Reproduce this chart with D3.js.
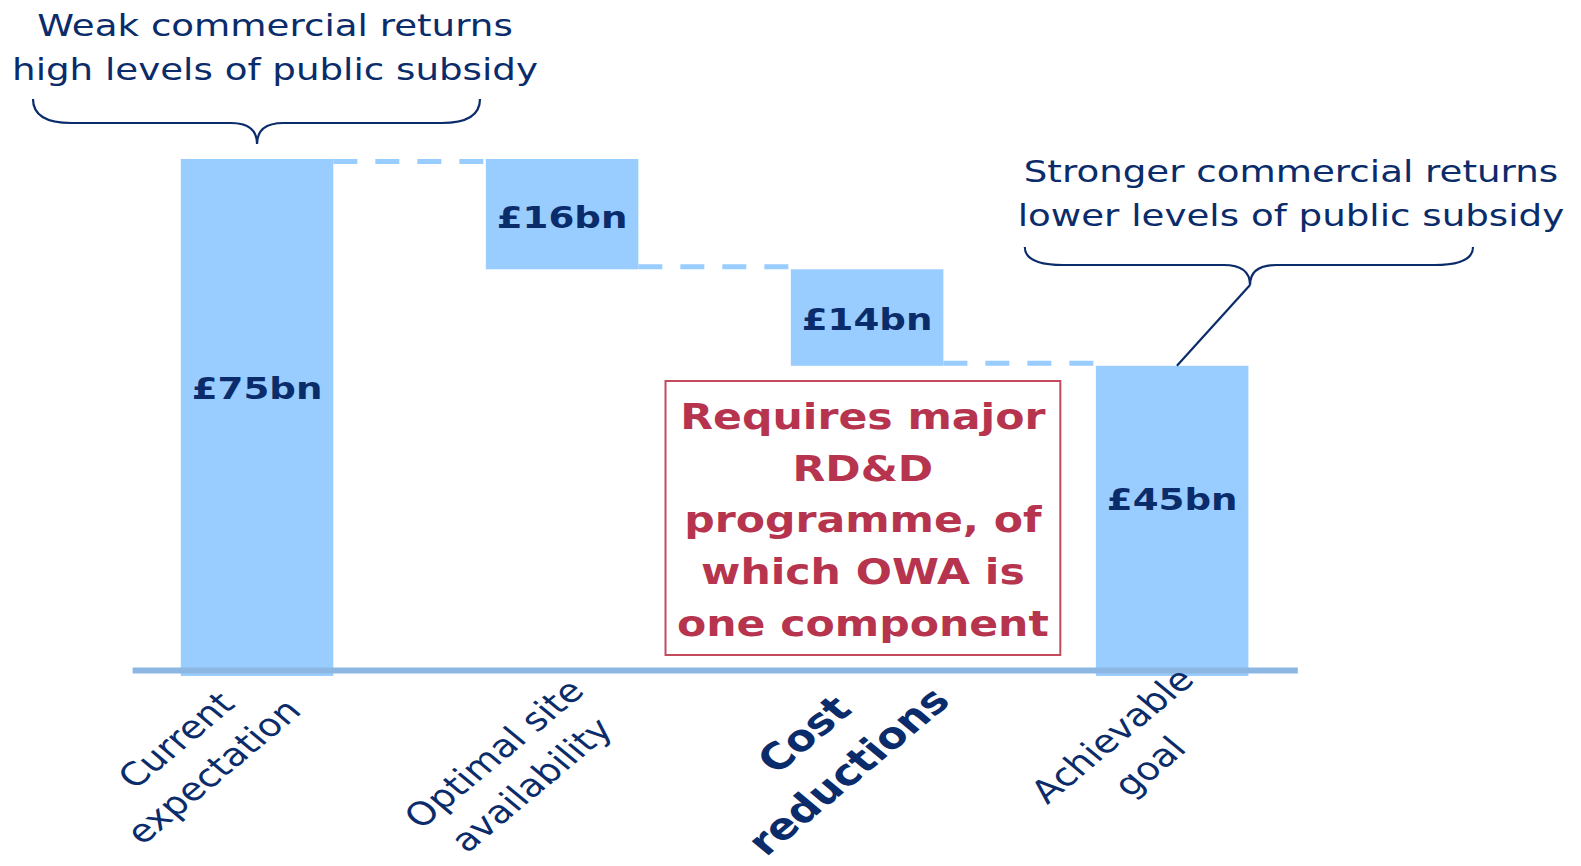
<!DOCTYPE html>
<html>
<head>
<meta charset="utf-8">
<script src="https://cdn.jsdelivr.net/npm/d3@7"></script>
<style>
  body { margin: 0; background: #fff; }
  text { font-family: "DejaVu Sans", Verdana, sans-serif; }
</style>
</head>
<body>
<script>
var categories = ["Current expectation", "Optimal site availability", "Cost reductions", "Achievable goal"];
var categoryLines = [["Current", "expectation"], ["Optimal site", "availability"], ["Cost", "reductions"], ["Achievable", "goal"]];
var changes = [75, -16, -14, 45];
var barKinds = ["total", "step", "step", "total"];
var valueLabels = ["£75bn", "£16bn", "£14bn", "£45bn"];
var highlight = "Cost reductions";

var leftNote = ["Weak commercial returns", "high levels of public subsidy"];
var rightNote = ["Stronger commercial returns", "lower levels of public subsidy"];
var boxNote = ["Requires major", "RD&D", "programme, of", "which OWA is", "one component"];

var width = 1581,
    height = 866,
    stretch = 1.2,          // the picture is wider than it is tall, text included
    vw = width / stretch;

var navy = "#0b2c6a", barColor = "#99ccff", axisColor = "#8cb7e3", red = "#b6344e";

// small hand nudges for the rotated labels, [along text, across text]
var labelNudge = [[-9, -9], [-8, 8], [0, 0], [0, 0]];

var svg = d3.select("body").append("svg")
    .attr("width", width)
    .attr("height", height)
    .attr("viewBox", "0 0 " + vw + " " + height)
    .attr("preserveAspectRatio", "none");

// running totals for the waterfall
var level = 0;
var bars = changes.map(function(v, i) {
  var b = {cat: categories[i], kind: barKinds[i], label: valueLabels[i]};
  if (b.kind == "total") { b.lo = 0; b.hi = v; level = v; }
  else { b.lo = level + v; b.hi = level; level += v; }
  b.end = b.kind == "total" ? b.hi : b.lo;
  return b;
});

var x = d3.scaleBand().domain(categories).range([110, 1081]).paddingInner(0.5).paddingOuter(0.16),
    y = d3.scaleLinear().domain([0, 75]).range([676, 159]);
var bw = x.bandwidth();

// dashed connectors between bars (first one hangs under the top edge)
svg.selectAll(".link")
  .data(bars.slice(0, -1))
  .enter().append("line")
  .attr("x1", function(d) { return x(d.cat) + bw; })
  .attr("x2", function(d, i) { return x(bars[i + 1].cat); })
  .attr("y1", function(d, i) { return y(d.end) + (i == 0 ? 2.5 : -2.5); })
  .attr("y2", function(d, i) { return y(d.end) + (i == 0 ? 2.5 : -2.5); })
  .attr("stroke", barColor)
  .attr("stroke-width", 5)
  .attr("stroke-dasharray", "20,15");

svg.selectAll(".bar")
  .data(bars)
  .enter().append("rect")
  .attr("x", function(d) { return x(d.cat); })
  .attr("y", function(d) { return y(d.hi); })
  .attr("width", bw)
  .attr("height", function(d) { return y(d.lo) - y(d.hi); })
  .attr("fill", barColor);

// axis line, labels are drawn by hand below
var axis = svg.append("g")
  .attr("transform", "translate(0,670)")
  .call(d3.axisBottom(x).tickSize(0).tickSizeOuter(0).tickFormat(""));
axis.select(".domain").attr("stroke", axisColor).attr("stroke-width", 6);

svg.selectAll(".value")
  .data(bars)
  .enter().append("text")
  .attr("x", function(d) { return x(d.cat) + bw / 2; })
  .attr("y", function(d) {
    var f = d.kind == "total" ? 0.465 : 0.625;
    return y(d.hi) + f * (y(d.lo) - y(d.hi));
  })
  .attr("text-anchor", "middle")
  .attr("font-size", 31)
  .attr("font-weight", "bold")
  .attr("fill", navy)
  .text(function(d) { return d.label; });

// rotated category labels
var cats = svg.selectAll(".cat")
  .data(categories)
  .enter().append("g")
  .attr("transform", function(d) { return "translate(" + (x(d) + bw / 2) + ",670) rotate(-45)"; });

cats.each(function(d, i) {
  var g = d3.select(this), bold = d == highlight;
  var fs = bold ? 36.5 : 32, lh = bold ? 52 : 44, base = bold ? 21 : 22;
  var t = g.selectAll("text")
    .data(categoryLines[i])
    .enter().append("text")
    .attr("y", function(s, j) { return base + labelNudge[i][1] + j * lh; })
    .attr("text-anchor", "middle")
    .attr("font-size", fs)
    .attr("font-weight", bold ? "bold" : "normal")
    .attr("fill", navy)
    .text(function(s) { return s; });
  var maxW = d3.max(t.nodes(), function(n) { return n.getComputedTextLength(); });
  t.attr("x", -maxW / 2 + (bold ? 27 : 6) + labelNudge[i][0]);
});

// braces
function brace(x0, x1, xt, yTop, yMid, yTip) {
  return "M" + x0 + "," + yTop + "Q" + x0 + "," + yMid + " " + (x0 + 32) + "," + yMid +
    "L" + (xt - 22) + "," + yMid + "Q" + xt + "," + yMid + " " + xt + "," + yTip +
    "Q" + xt + "," + yMid + " " + (xt + 22) + "," + yMid +
    "L" + (x1 - 32) + "," + yMid + "Q" + x1 + "," + yMid + " " + x1 + "," + yTop;
}

var first = x(categories[0]) + bw / 2,
    last = x(categories[3]) + bw / 2;

svg.append("path")
  .attr("d", brace(27.5, 400, first, 99, 123, 144))
  .attr("fill", "none").attr("stroke", navy).attr("stroke-width", 2.2)
  .attr("vector-effect", "non-scaling-stroke");

svg.append("path")
  .attr("d", brace(854, 1227.5, 1041.7, 247, 265, 285))
  .attr("fill", "none").attr("stroke", navy).attr("stroke-width", 2.2)
  .attr("vector-effect", "non-scaling-stroke");

svg.append("line")
  .attr("x1", 1041.7).attr("y1", 285)
  .attr("x2", last + 4).attr("y2", y(45))
  .attr("stroke", navy).attr("stroke-width", 2.2)
  .attr("vector-effect", "non-scaling-stroke");

svg.selectAll(".lnote")
  .data(leftNote)
  .enter().append("text")
  .attr("x", 229.2)
  .attr("y", function(d, i) { return 36 + i * 44; })
  .attr("text-anchor", "middle")
  .attr("font-size", 31)
  .attr("fill", navy)
  .text(function(d) { return d; });

svg.selectAll(".rnote")
  .data(rightNote)
  .enter().append("text")
  .attr("x", 1075.8)
  .attr("y", function(d, i) { return 182 + i * 44; })
  .attr("text-anchor", "middle")
  .attr("font-size", 31)
  .attr("fill", navy)
  .text(function(d) { return d; });

// RD&D box
var boxCx = x(categories[2]) + bw / 2 - 3.5;
svg.append("rect")
  .attr("x", boxCx - 164.5).attr("y", 381)
  .attr("width", 329).attr("height", 274)
  .attr("fill", "#fff")
  .attr("stroke", "#c24b5e").attr("stroke-width", 2)
  .attr("vector-effect", "non-scaling-stroke");

svg.selectAll(".box")
  .data(boxNote)
  .enter().append("text")
  .attr("x", boxCx)
  .attr("y", function(d, i) { return 429 + i * 51.7; })
  .attr("text-anchor", "middle")
  .attr("font-size", 35.5)
  .attr("font-weight", "bold")
  .attr("fill", red)
  .text(function(d) { return d; });
</script>
</body>
</html>
